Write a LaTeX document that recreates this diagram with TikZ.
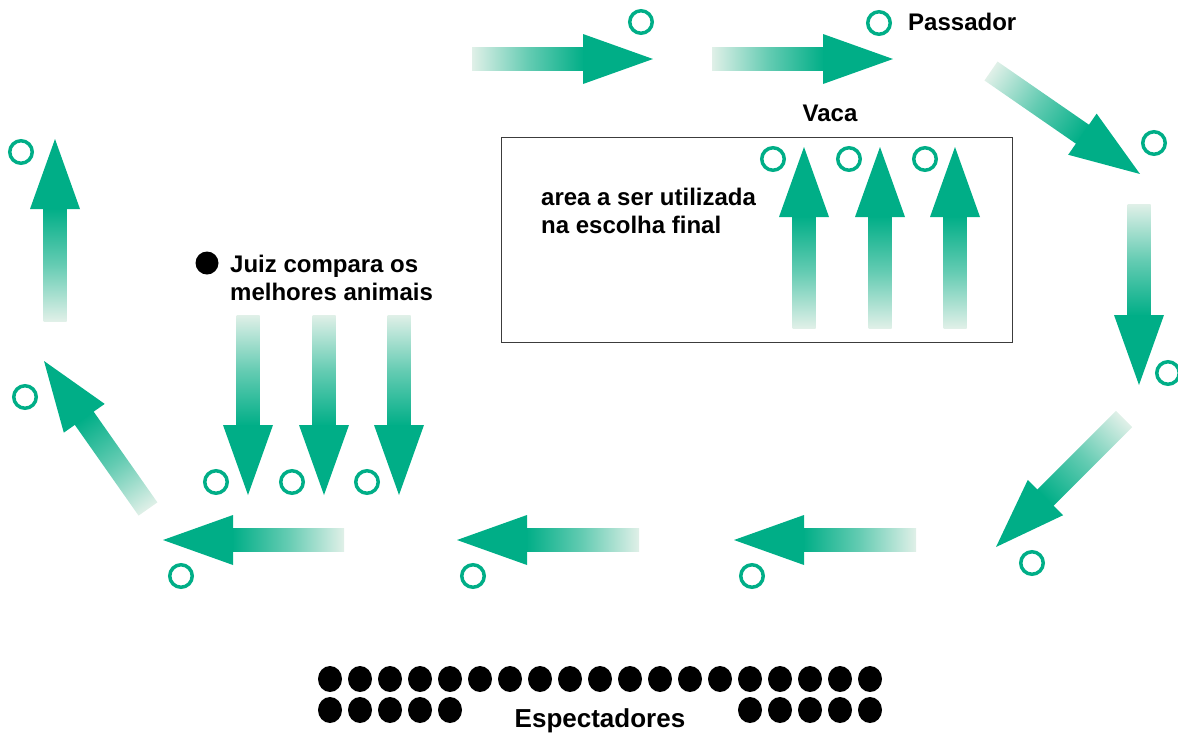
\documentclass[tikz,border=0pt]{standalone}
\usepackage{fontspec}
\setmainfont{Liberation Sans}
\definecolor{flowgreen}{RGB}{0,174,135}
\definecolor{flowpale}{RGB}{224,240,232}
\definecolor{boxline}{RGB}{60,60,60}

\tikzset{
  label text/.style={font=\bfseries\fontsize{24}{28}\selectfont, inner sep=0pt, text=black},
  ring/.style={circle, draw=flowgreen, line width=3.5pt, minimum size=22.5pt, inner sep=0pt},
  seat/.style={ellipse, fill=black, minimum width=24pt, minimum height=26pt, inner sep=0pt},
  judge dot/.style={circle, fill=black, minimum size=23pt, inner sep=0pt},
  field/.style={draw=boxline, line width=1.3pt, inner sep=0pt, anchor=north west},
}
\usetikzlibrary{shapes.geometric}

% Shaded block arrow from (#1,#2) (tail) to (#3,#4) (tip), pixel units
\newcommand{\flowarrow}[4]{%
  \pgfmathsetmacro\fadx{#3-#1}%
  \pgfmathsetmacro\faup{#2-#4}%
  \pgfmathsetmacro\faang{atan2(\faup,\fadx)}%
  \pgfmathsetmacro\falen{veclen(\fadx,\faup)}%
  \pgfmathsetmacro\fabase{\falen-70}%
  \begin{scope}[transform canvas={shift={(#1,#2)},rotate=\faang}]
    \shade[left color=flowpale, right color=flowgreen, middle color=flowgreen!55!flowpale]
      (0,-11.5) rectangle (\fabase+1,11.5);
    \fill[flowgreen] (\fabase,-25) -- (\falen,0) -- (\fabase,25) -- cycle;
  \end{scope}}

\begin{document}
\begin{tikzpicture}[x=1pt, y=-1pt]
\useasboundingbox (0,0) rectangle (1178,732);

% selection area
\node[field, minimum width=511pt, minimum height=205pt] (finalarea) at (501,137) {};

% circuit of the ring
\flowarrow{472}{59}{653}{59}
\flowarrow{712}{59}{893}{59}
\flowarrow{991}{71}{1140}{174}
\flowarrow{1139}{204}{1139}{385}
\flowarrow{1124}{419}{996}{547}
\flowarrow{916}{540}{734}{540}
\flowarrow{639}{540}{457}{540}
\flowarrow{344}{540}{163}{540}
\flowarrow{148}{509}{44}{361}
\flowarrow{55}{321}{55}{139}

% line-up in front of the judge
\flowarrow{248}{315}{248}{495}
\flowarrow{324}{315}{324}{495}
\flowarrow{399}{315}{399}{495}

% final line-up inside the area
\flowarrow{804}{328}{804}{147}
\flowarrow{880}{328}{880}{147}
\flowarrow{955}{328}{955}{147}

% handlers
\node[ring] (r1) at (641,22) {};
\node[ring] (r2) at (879,23) {};
\node[ring] (r3) at (1154,143) {};
\node[ring] (r4) at (1168,373) {};
\node[ring] (r5) at (1032,563) {};
\node[ring] (r6) at (752,576) {};
\node[ring] (r7) at (473,576) {};
\node[ring] (r8) at (181,576) {};
\node[ring] (r9) at (25,397) {};
\node[ring] (r10) at (21,152) {};
\node[ring] (r11) at (216,482) {};
\node[ring] (r12) at (292,482) {};
\node[ring] (r13) at (367,482) {};
\node[ring] (r14) at (773,159) {};
\node[ring] (r15) at (849,159) {};
\node[ring] (r16) at (925,159) {};

% labels
\node[label text, anchor=base west] (passador) at (908,30) {Passador};
\node[label text, anchor=base] (vaca) at (830,121) {Vaca};
\node[label text, anchor=north west, align=left] (areatext) at (541,187.5)
  {area a ser utilizada\\na escolha final};
\node[judge dot] (judge) at (207,263) {};
\node[label text, anchor=north west, align=left] (juiz) at (230,254.5)
  {Juiz compara os\\melhores animais};

% spectators
\foreach \i in {0,...,18} {
  \node[seat] (top\i) at (330+30*\i,679) {};
}
\foreach \i in {0,...,4} {
  \node[seat] (left\i) at (330+30*\i,710) {};
  \node[seat] (right\i) at (750+30*\i,710) {};
}
\node[font=\bfseries\fontsize{26}{30}\selectfont, inner sep=0pt, anchor=base] (espect) at (600,727) {Espectadores};
\end{tikzpicture}
\end{document}
